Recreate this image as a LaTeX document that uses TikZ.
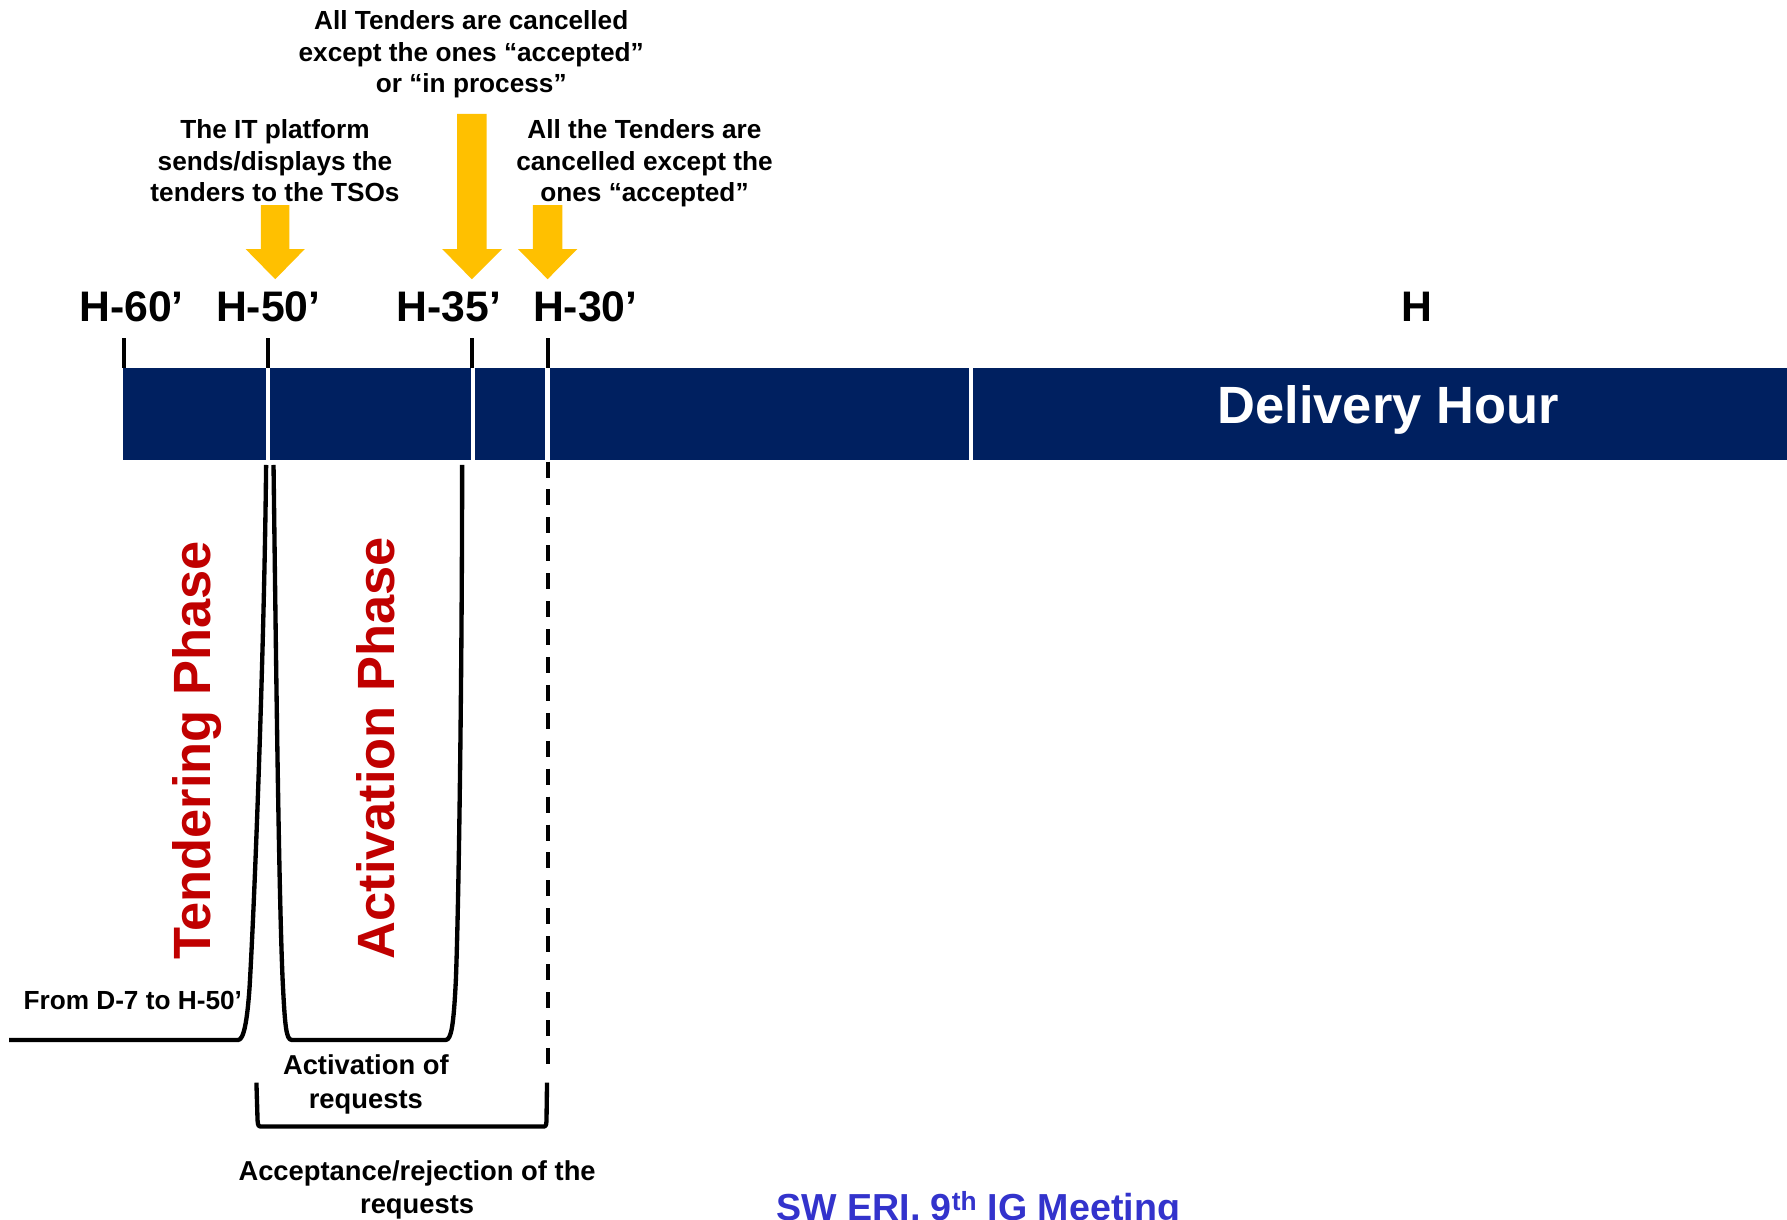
\documentclass[tikz,border=0pt]{standalone}
\usepackage{fontspec}
\setmainfont{Liberation Sans}
\definecolor{navy}{RGB}{0,32,96}
\definecolor{amber}{RGB}{255,192,0}
\definecolor{phred}{RGB}{192,0,0}
\definecolor{meetblue}{RGB}{51,51,204}
\begin{document}
\begin{tikzpicture}[x=1pt,y=-1pt,
  lbl/.style={font=\fontsize{23}{27.5}\selectfont\bfseries, align=center, inner sep=0pt, anchor=north},
  sublbl/.style={font=\fontsize{24}{29.5}\selectfont\bfseries, align=center, inner sep=0pt, anchor=north},
  hour/.style={font=\fontsize{37.5}{40}\selectfont\bfseries, inner sep=0pt, anchor=base},
  phase/.style={font=\fontsize{46}{50}\selectfont\bfseries, text=phred, rotate=90, anchor=base, inner sep=0pt},
  tickmark/.style={line width=3.5pt},
  sepline/.style={white, line width=4pt},
  curve/.style={line width=3.8pt, line join=round},
  yarrow/.style={fill=amber, draw=none}]
\useasboundingbox (0,0) rectangle (1568,1070);
\fill[white] (0,0) rectangle (1568,1070);

% timeline bar
\fill[navy] (108,323) rectangle (1568,404);
\foreach \x in {235,415,480.5,852} \draw[sepline] (\x,323) -- (\x,404);
\foreach \x in {109,235,414,480.5} \draw[tickmark] (\x,297) -- (\x,323);

% hour labels
\node[hour] (h60) at (115.5,282) {H-60’};
\node[hour] (h50) at (235.5,282) {H-50’};
\node[hour] (h35) at (394,282) {H-35’};
\node[hour] (h30) at (513.6,282) {H-30’};
\node[hour] (h0) at (1243.5,282) {H};
\node[font=\fontsize{46}{50}\selectfont\bfseries, text=white, anchor=base, inner sep=0pt] (dh) at (1218,371.5) {Delivery Hour};

% yellow arrows
\fill[yarrow] (229,180) -- (254,180) -- (254,218.5) -- (267.5,218.5) -- (241.5,245) -- (215.5,218.5) -- (229,218.5) -- cycle;
\fill[yarrow] (401,100) -- (427,100) -- (427,218.5) -- (440.5,218.5) -- (414,245) -- (388,218.5) -- (401,218.5) -- cycle;
\fill[yarrow] (467.5,180) -- (493.5,180) -- (493.5,218.5) -- (506.5,218.5) -- (480.5,245) -- (454.5,218.5) -- (467.5,218.5) -- cycle;

% top texts
\node[lbl] (t1) at (413.5,9.2) {All Tenders are cancelled\\except the ones “accepted”\\or “in process”};
\node[lbl] (t2) at (241.3,104.9) {The IT platform\\sends/displays the\\tenders to the TSOs};
\node[lbl] (t3) at (565.5,104.9) {All the Tenders are\\cancelled except the\\ones “accepted”};

% phases
\node[phase] (tp) at (185,658.5) {Tendering Phase};
\node[phase] (ap) at (346,656.5) {Activation Phase};

\draw[curve] (8,912.5) -- (209,912.5) .. controls (214,912.5) and (217,895) .. (219,866) .. controls (224,780) and (232,560) .. (233.5,408);
\draw[curve] (240,408) .. controls (242,560) and (244.5,780) .. (248,860) .. controls (250,900) and (251,912.5) .. (256,912.5) -- (391,912.5) .. controls (396,912.5) and (398,900) .. (400,860) .. controls (403,780) and (405.5,560) .. (405.5,408);
\draw[line width=3.5pt, dash pattern=on 14pt off 10.5pt] (480.5,405) -- (480.5,938);
\draw[curve] (225,950) -- (226,983) .. controls (226.5,988.5) .. (231,988.5) -- (475,988.5) .. controls (479,988.5) .. (479.5,984) -- (480,950);

\node[font=\fontsize{23}{27}\selectfont\bfseries, anchor=base, inner sep=0pt] (from) at (116.5,886) {From D-7 to H-50’};
\node[sublbl] (act) at (321,925.4) {Activation of\\requests};
\node[sublbl] (acc) at (366,1017.8) {Acceptance/rejection of the\\requests};

\node[font=\fontsize{33}{36}\selectfont\bfseries, text=meetblue, anchor=base west, inner sep=0pt] (meet) at (681,1071) {SW ERI, 9\textsuperscript{th} IG Meeting};
\end{tikzpicture}
\end{document}
